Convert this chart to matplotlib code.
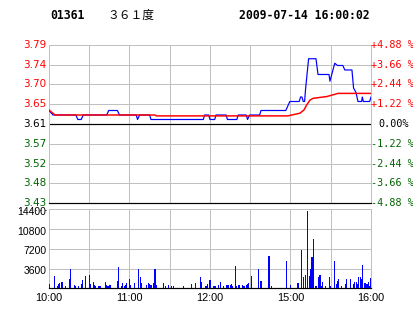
import matplotlib
matplotlib.use("Agg")
import matplotlib.pyplot as plt
from matplotlib.lines import Line2D
import matplotlib.transforms as mtransforms

# ---------------- data ----------------
code = "01361"
name = "３６１度"
stamp = "2009-07-14 16:00:02"
prev_close = 3.61

pct_levels = [4.88, 3.66, 2.44, 1.22, 0.0, -1.22, -2.44, -3.66, -4.88]
price_labels = ["3.79", "3.74", "3.70", "3.65", "3.61", "3.57", "3.52", "3.48", "3.43"]
pct_labels = ["+4.88 %", "+3.66 %", "+2.44 %", "+1.22 %", "0.00%",
              "-1.22 %", "-2.44 %", "-3.66 %", "-4.88 %"]

time_ticks = [0, 60, 120, 180, 240]
time_labels = ["10:00", "11:00", "12:00", "15:00", "16:00"]

vol_ticks = [3600, 7200, 10800, 14400]
vol_labels = ["3600", "7200", "10800", "14400"]

# price line (minutes since open, price)
price_t = [0, 3, 20, 21.5, 24, 25.5, 43, 44.5, 51, 52.5, 65, 66, 67.5, 75, 76,
           115, 116, 119, 120, 123.5, 124.5, 132, 133, 140, 141, 147, 148, 149.5,
           157, 158, 176.5, 179.5, 186.5, 187.5, 188.5, 189.5, 190.5, 191.3,
           193.5, 199, 200.5, 208.7, 209.4, 213, 215, 219, 220.5, 225.8, 227,
           228.8, 230.3, 233, 233.5, 234.3, 239, 240]
price_v = [3.64, 3.63, 3.63, 3.62, 3.62, 3.63, 3.63, 3.64, 3.64, 3.63, 3.63, 3.62, 3.63, 3.63, 3.62,
           3.62, 3.63, 3.63, 3.62, 3.62, 3.63, 3.63, 3.62, 3.62, 3.63, 3.63, 3.62, 3.63,
           3.63, 3.64, 3.64, 3.66, 3.66, 3.67, 3.67, 3.66, 3.66, 3.69,
           3.755, 3.755, 3.72, 3.72, 3.705, 3.745, 3.74, 3.74, 3.73, 3.73, 3.69,
           3.68, 3.66, 3.66, 3.67, 3.66, 3.66, 3.67]

# average price line
avg_t = [0, 4.5, 79, 80, 178, 187, 190, 192, 194.5, 196.8, 207, 210.7, 215.4, 240]
avg_v = [3.641, 3.630, 3.630, 3.628, 3.628, 3.634, 3.641, 3.652, 3.663, 3.667,
         3.671, 3.674, 3.678, 3.678]

# volume bars (minute, shares)
vol_t = [0, 4, 6, 7, 8, 9, 10, 12, 15, 16, 19, 20, 22, 24, 25, 27, 30, 31, 33, 34,
         35, 37, 38, 42, 43, 44, 45, 46, 51, 52, 54, 55, 56, 57, 58, 60, 61, 64, 67,
         68, 69, 73, 74, 75, 76, 78, 79, 80, 85, 87, 89, 91, 93, 100, 106, 109, 113,
         114, 117, 118, 120, 123, 124, 126, 128, 130, 132, 133, 134, 135, 136, 137,
         139, 140, 141, 142, 144, 145, 146, 147, 148, 149, 151, 156, 158, 164, 166,
         177, 180, 185, 186, 188, 190, 191, 193, 194, 195, 196, 197, 199, 201, 202,
         203, 204, 206, 209, 210, 213, 214, 215, 216, 218, 221, 222, 225, 227, 228,
         229, 230, 231, 232, 233, 234, 235, 236, 237, 238, 239, 240]
vol_v = [790, 2250, 420, 730, 1030, 1150, 1100, 420, 1650, 3530, 600, 420, 420, 790, 1520, 2250, 2430, 790, 1150, 600,
         420, 420, 420, 1150, 670, 420, 600, 600, 1330, 3900, 420, 910, 420, 600, 1030, 1700, 600, 910, 3530,
         2100, 1030, 600, 1030, 730, 600, 910, 3530, 600, 910, 420, 600, 420, 420, 420, 790, 910, 2000,
         1220, 420, 730, 1460, 420, 420, 600, 1100, 420, 550, 550, 550, 670, 790, 420,
         4080, 420, 550, 600, 550, 420, 480, 670, 730, 970, 2250, 3530, 1330, 5900, 420,
         5000, 600, 970, 970, 7000, 2070, 2430, 14150, 2250, 3530, 5720, 9030, 420, 2070, 2430,
         420, 1150, 420, 2070, 420, 5000, 790, 1280, 1700, 420, 790, 1700, 1700, 790, 1150,
         1150, 790, 2070, 2070, 1700, 4270, 970, 970, 790, 1150, 420, 1880]

# ---------------- styling ----------------
W, H = 414, 314
RED = "#ff0000"
GREEN = "#006400"
GRID = "#c0c0c0"
BLUE = "#0000ff"
px = 0.72  # 1 pixel in points at 100 dpi

fig = plt.figure(figsize=(W / 100, H / 100), dpi=100)
fig.patch.set_facecolor("white")

L, R = 49, 371
p_top, p_bot = 44.7, 203.3
v_top, v_bot = 209.3, 288.3

def rect(top, bot):
    return [L / W, 1 - bot / H, (R - L) / W, (bot - top) / H]

axp = fig.add_axes(rect(p_top, p_bot))
axv = fig.add_axes(rect(v_top, v_bot))

levels = [prev_close * (1 + p / 100) for p in pct_levels]

for ax in (axp, axv):
    ax.set_xlim(0, 240)
    ax.set_xticks([])
    ax.set_yticks([])
    for s in ("left", "top", "right"):
        ax.spines[s].set_color(GRID)
        ax.spines[s].set_linewidth(px)
    ax.spines["bottom"].set_color("black")
    ax.spines["bottom"].set_linewidth(px * 1.2)
    for xv in range(30, 240, 30):
        ax.axvline(xv, color=GRID, lw=px, zorder=1)

axp.set_ylim(levels[-1], levels[0])
for lv, p in zip(levels[1:-1], pct_levels[1:-1]):
    if p == 0:
        axp.axhline(lv, color="black", lw=px * 1.2, zorder=2)
    else:
        axp.axhline(lv, color=GRID, lw=px, zorder=1)

axp.plot(price_t, price_v, color=BLUE, lw=px * 1.2, zorder=3)
axp.plot(avg_t, avg_v, color=RED, lw=px * 1.5, zorder=4)

mono = "DejaVu Sans Mono"
for lv, p, pl, ql in zip(levels, pct_levels, price_labels, pct_labels):
    c = RED if p > 0 else ("black" if p == 0 else GREEN)
    axp.text(-2.5 / 322 * 240, lv, pl, ha="right", va="center", color=c,
             fontsize=7.5, family="DejaVu Sans", clip_on=False)
    off = 7 if p == 0 else 0.5
    axp.text(240 + off / 322 * 240, lv, ql, ha="left", va="center", color=c,
             fontsize=7.3, family=mono, clip_on=False)

# volume panel
axv.set_ylim(0, 14400)
for yv in vol_ticks[:-1]:
    axv.axhline(yv, color=GRID, lw=px, zorder=1)
axv.bar(vol_t, vol_v, width=0.8, color=BLUE, linewidth=0, zorder=3)
dy = mtransforms.ScaledTranslation(0, -2.5 / 100, fig.dpi_scale_trans)
for yv, lab in zip(vol_ticks, vol_labels):
    axv.text(-2.5 / 322 * 240, yv, lab, ha="right", va="center", color="black",
             fontsize=7.5, family="Liberation Sans", clip_on=False,
             transform=axv.transData + dy)
for tv, lab in zip(time_ticks, time_labels):
    axv.text(tv, -0.06, lab, ha="center", va="top", color="black",
             fontsize=7.8, family="Liberation Sans", clip_on=False,
             transform=axv.get_xaxis_transform())

# dotted stub left of the volume top
fig.add_artist(Line2D([20 / W, 46 / W], [1 - 209.5 / H] * 2, color="black",
                      lw=px, ls=(0, (1, 4))))

# header
fig.text(50 / W, 1 - 15.5 / H, code, ha="left", va="center", fontsize=8.3,
         family=mono, weight="bold")
fig.text(107 / W, 1 - 15.5 / H, name, ha="left", va="center", fontsize=8.5,
         family=["Noto Sans CJK SC", "DejaVu Sans"])
fig.text(370 / W, 1 - 15.5 / H, stamp, ha="right", va="center", fontsize=8.3,
         family=mono, weight="bold")

fig.savefig("out.png", dpi=100, facecolor="white")
